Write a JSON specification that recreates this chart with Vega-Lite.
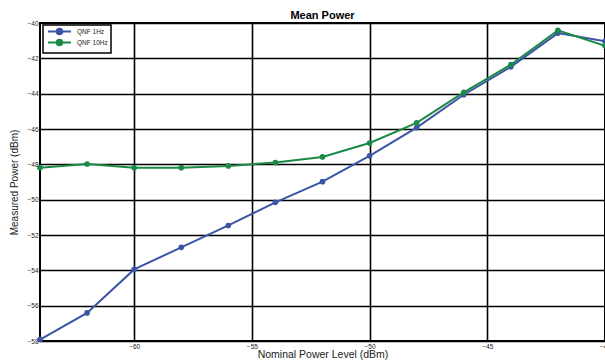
{
  "$schema": "https://vega.github.io/schema/vega-lite/v6.json",
  "width": 565,
  "height": 318,
  "autosize": "none",
  "padding": {"left": 40, "top": 23, "right": 0, "bottom": 19},
  "background": "white",
  "title": {"text": "Mean Power", "fontSize": 11, "fontWeight": "bold", "font": "Liberation Sans", "anchor": "middle", "frame": "group", "offset": -1, "color": "black"},
  "config": {
    "font": "Liberation Sans",
    "view": {"stroke": "black", "strokeWidth": 2},
    "axis": {"grid": true, "gridColor": "black", "gridWidth": 1.6, "gridOpacity": 1, "domain": false, "ticks": false, "labelFontSize": 6.5, "labelColor": "#222", "labelFlush": false, "labelOverlap": false, "titleFontWeight": "normal", "titleColor": "#222", "labelFont": "Liberation Sans", "titleFont": "Liberation Sans"}
  },
  "data": {"values": [
    {"x": -64, "y": -57.92, "series": "QNF 1Hz"},
    {"x": -62, "y": -56.41, "series": "QNF 1Hz"},
    {"x": -60, "y": -53.95, "series": "QNF 1Hz"},
    {"x": -58, "y": -52.70, "series": "QNF 1Hz"},
    {"x": -56, "y": -51.46, "series": "QNF 1Hz"},
    {"x": -54, "y": -50.15, "series": "QNF 1Hz"},
    {"x": -52, "y": -48.98, "series": "QNF 1Hz"},
    {"x": -50, "y": -47.52, "series": "QNF 1Hz"},
    {"x": -48, "y": -45.92, "series": "QNF 1Hz"},
    {"x": -46, "y": -44.06, "series": "QNF 1Hz"},
    {"x": -44, "y": -42.48, "series": "QNF 1Hz"},
    {"x": -42, "y": -40.57, "series": "QNF 1Hz"},
    {"x": -40, "y": -41.04, "series": "QNF 1Hz"},
    {"x": -64, "y": -48.19, "series": "QNF 10Hz"},
    {"x": -62, "y": -47.98, "series": "QNF 10Hz"},
    {"x": -60, "y": -48.20, "series": "QNF 10Hz"},
    {"x": -58, "y": -48.19, "series": "QNF 10Hz"},
    {"x": -56, "y": -48.09, "series": "QNF 10Hz"},
    {"x": -54, "y": -47.90, "series": "QNF 10Hz"},
    {"x": -52, "y": -47.58, "series": "QNF 10Hz"},
    {"x": -50, "y": -46.79, "series": "QNF 10Hz"},
    {"x": -48, "y": -45.65, "series": "QNF 10Hz"},
    {"x": -46, "y": -43.93, "series": "QNF 10Hz"},
    {"x": -44, "y": -42.36, "series": "QNF 10Hz"},
    {"x": -42, "y": -40.42, "series": "QNF 10Hz"},
    {"x": -40, "y": -41.29, "series": "QNF 10Hz"}
  ]},
  "mark": {"type": "line", "strokeWidth": 2, "point": {"filled": true, "size": 32}},
  "encoding": {
    "x": {"field": "x", "type": "quantitative", "scale": {"domain": [-64, -40], "nice": false, "zero": false},
      "axis": {"values": [-60, -55, -50, -45, -40], "title": "Nominal Power Level (dBm)", "titleFontSize": 10.5, "labelPadding": 2, "titlePadding": 0}},
    "y": {"field": "y", "type": "quantitative", "scale": {"domain": [-58, -40], "nice": false, "zero": false},
      "axis": {"values": [-58, -56, -54, -52, -50, -48, -46, -44, -42, -40], "title": "Measured Power (dBm)", "titleFontSize": 10, "labelPadding": 2, "titlePadding": 7}},
    "color": {"field": "series", "type": "nominal",
      "scale": {"domain": ["QNF 1Hz", "QNF 10Hz"], "range": ["#3b54a6", "#1b8a47"]},
      "legend": {"orient": "none", "legendX": 3, "legendY": 2, "title": null, "direction": "vertical",
        "padding": 3,
        "labelFontSize": 6.5, "labelColor": "#222", "labelOffset": 24, "rowPadding": -6, "cornerRadius": 0,
        "symbolType": "M-0.6,0L8.6,0M2.88,0A1.12,1.12,0,1,1,5.12,0A1.12,1.12,0,1,1,2.88,0Z",
        "symbolSize": 25, "symbolStrokeWidth": 2,
        "encode": {
          "legend": {"update": {"stroke": {"value": "black"}, "strokeWidth": {"value": 1.5}, "fill": {"value": "white"}}},
          "symbols": {"update": {"fill": {"scale": "color", "field": "value"}}}}}}
  }
}
